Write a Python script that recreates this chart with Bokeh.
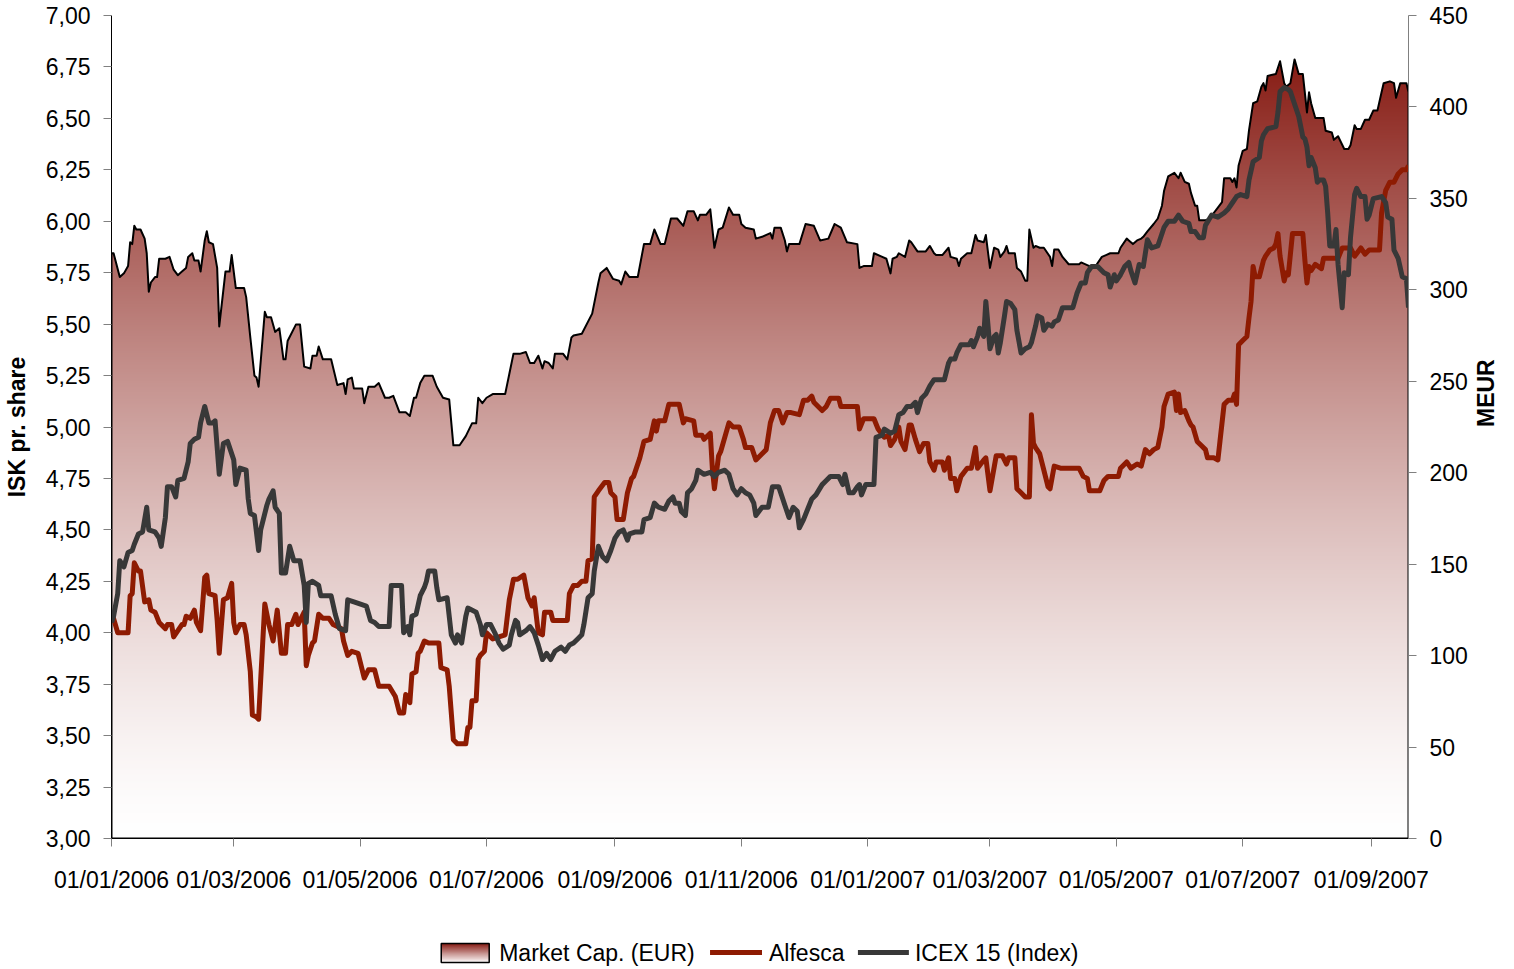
import math
import numpy as np
import pandas as pd
from bokeh.plotting import figure
from bokeh.layouts import column
from bokeh.models import (Range1d, LinearAxis, FixedTicker, DatetimeTickFormatter,
                          CustomJSTickFormatter)
from bokeh.core.properties import value
from bokeh.embed import file_html
from bokeh.resources import INLINE

# ---------------- data ----------------
START = "2006-01-01"
END_DAY = 626  # last trading day shown (19/09/2007)

tick_dates = ["2006-01-01", "2006-03-01", "2006-05-01", "2006-07-01", "2006-09-01",
              "2006-11-01", "2007-01-01", "2007-03-01", "2007-05-01", "2007-07-01",
              "2007-09-01"]
left_ticks = [3.00, 3.25, 3.50, 3.75, 4.00, 4.25, 4.50, 4.75, 5.00, 5.25, 5.50,
              5.75, 6.00, 6.25, 6.50, 6.75, 7.00]
right_ticks = [0, 50, 100, 150, 200, 250, 300, 350, 400, 450]

# Market Cap. (EUR), MEUR  -> (day since 01/01/2006, value)
mc_points = [(0,320),(1,320),(4,307),(6,309),(8,313),(9,326),(10,325),(11,335),(12,333),(14,333),
(16,328),(17,320),(18,299),(19,304),(21,307),(22,307),(23,317),(26,317),(28,318),(30,311),(32,308),
(34,310),(36,312),(37,318),(39,320),(40,316),(42,316),(43,310),(45,327),(46,332),(47,326),(49,325),
(51,312),(52,280),(55,310),(57,310),(58,319),(60,301),(64,301),(65,296),(67,274),(69,253),(70,252),
(71,247),(74,288),(75,285),(77,285),(79,277),(81,279),(83,262),(84,262),(85,272),(89,281),(91,281),
(93,258),(96,257),(97,264),(99,264),(100,269),(102,262),(106,262),(109,248),(112,249),(113,243),
(114,251),(116,252),(117,246),(121,246),(122,238),(124,247),(127,247),(129,249),(132,241),(134,241),
(136,242),(139,233),(142,233),(144,231),(146,241),(147,241),(149,249),(151,253),(155,253),(157,247),
(160,241),(163,240),(165,215),(168,215),(171,220),(174,227),(176,227),(177,241),(179,238),(181,241),
(184,243),(190,243),(192,254),(194,265),(197,265),(200,266),(202,260),(204,260),(206,264),(208,257),
(209,261),(211,260),(213,257),(214,265),(218,265),(220,262),(222,274),(223,275),(227,276),(232,287),
(235,304),(236,309),(239,312),(242,306),(245,305),(246,303),(248,310),(250,307),(254,307),(257,325),
(260,325),(262,333),(265,325),(267,325),(270,339),(273,339),(276,335),(278,343),(281,343),(283,338),
(284,341),(287,341),(289,344),(291,323),(293,333),(295,334),(298,345),(300,341),(303,341),(304,336),
(306,334),(310,333),(311,328),(314,329),(318,331),(319,328),(320,334),(323,334),(325,327),(326,321),
(327,325),(332,325),(335,336),(339,335),(342,327),(346,328),(349,336),(352,334),(355,326),(360,325),
(361,312),(363,313),(367,313),(368,320),(372,318),(374,317),(376,309),(377,317),(379,318),(380,320),
(383,318),(385,327),(386,326),(389,321),(393,321),(395,324),(397,320),(398,319),(401,319),(404,323),
(405,318),(408,317),(409,313),(410,317),(413,320),(415,320),(417,330),(418,327),(421,326),(422,330),
(424,312),(426,323),(428,322),(429,318),(431,321),(432,324),(433,320),(436,320),(437,312),(439,310),
(441,305),(442,305),(443,333),(445,323),(446,324),(448,323),(450,323),(453,318),(454,313),(455,322),
(457,322),(459,318),(462,314),(467,314),(468,315),(472,313),(475,313),(478,318),(480,319),(482,320),
(486,320),(487,323),(490,328),(491,327),(493,325),(495,327),(497,328),(498,329),(500,332),(503,336),
(505,339),(507,346),(508,354),(510,362),(513,364),(515,361),(516,364),(518,359),(520,358),(521,353),
(523,346),(524,346),(525,338),(528,338),(530,339),(532,342),(534,345),(536,348),(537,361),(540,361),
(541,359),(542,361),(543,356),(544,368),(546,376),(548,377),(549,387),(551,402),(553,403),(555,411),
(556,413),(557,409),(558,417),(562,418),(564,425),(566,413),(567,411),(569,413),(571,426),(573,418),
(575,418),(577,397),(578,408),(579,402),(581,394),(582,394),(585,394),(586,387),(589,386),(590,382),
(592,384),(595,377),(597,377),(598,379),(600,390),(601,388),(603,388),(605,393),(607,393),(609,398),
(611,398),(613,408),(614,413),(617,414),(619,413),(620,405),(622,413),(625,413),(626,408)]

# Alfesca, ISK per share
alf_points = [(0,4.08),(1,4.07),(3,4.00),(8,4.00),(9,4.18),(10,4.19),(11,4.34),(13,4.30),(14,4.30),
(16,4.15),(18,4.16),(19,4.11),(21,4.10),(23,4.05),(26,4.02),(27,4.04),(29,4.04),(30,3.98),(34,4.04),
(35,4.04),(36,4.08),(38,4.07),(40,4.11),(41,4.05),(43,4.01),(45,4.27),(46,4.28),(47,4.19),(50,4.18),
(51,4.06),(52,3.90),(54,4.16),(56,4.17),(58,4.24),(59,4.05),(60,4.00),(62,4.04),(64,4.04),(65,3.99),
(67,3.81),(68,3.60),(70,3.59),(71,3.58),(72,3.77),(74,4.14),(76,4.04),(78,3.96),(80,4.11),(82,3.90),
(84,3.90),(85,4.04),(87,4.04),(89,4.09),(90,4.04),(93,4.10),(94,3.84),(95,3.89),(97,3.95),(98,3.96),
(100,4.09),(102,4.07),(105,4.07),(107,4.04),(111,4.02),(112,3.96),(114,3.89),(116,3.91),(119,3.90),
(122,3.78),(124,3.82),(127,3.82),(129,3.74),(134,3.74),(137,3.69),(139,3.61),(141,3.61),(142,3.70),
(144,3.66),(145,3.80),(147,3.81),(148,3.90),(149,3.91),(151,3.96),(153,3.95),(158,3.95),(159,3.83),
(162,3.82),(163,3.74),(165,3.48),(167,3.46),(171,3.46),(172,3.54),(173,3.54),(174,3.67),(176,3.67),
(177,3.87),(178,3.89),(180,3.91),(181,4.00),(184,3.97),(190,3.99),(192,4.16),(194,4.26),(196,4.26),
(199,4.28),(201,4.17),(203,4.13),(204,4.17),(206,4.00),(208,3.99),(209,4.10),(212,4.10),(213,4.06),
(220,4.06),(221,4.19),(223,4.23),(225,4.23),(227,4.25),(229,4.25),(230,4.35),(232,4.36),(233,4.66),
(235,4.69),(238,4.73),(240,4.73),(241,4.68),(243,4.66),(244,4.55),(247,4.55),(249,4.68),(251,4.75),
(252,4.76),(255,4.85),(257,4.93),(260,4.94),(262,5.03),(263,4.98),(264,5.03),(267,5.03),(269,5.11),
(274,5.11),(276,5.02),(277,5.04),(281,5.03),(282,4.96),(285,4.96),(286,4.94),(289,4.97),(290,4.80),
(291,4.70),(293,4.86),(294,4.88),(298,5.02),(300,5.00),(303,5.00),(305,4.94),(306,4.90),(309,4.90),
(311,4.84),(314,4.87),(316,4.89),(318,5.02),(320,5.08),(322,5.08),(324,5.02),(326,5.07),(328,5.07),
(332,5.06),(334,5.13),(336,5.13),(338,5.15),(339,5.12),(343,5.08),(345,5.10),(347,5.14),(351,5.14),
(352,5.10),(360,5.10),(361,4.99),(363,5.04),(368,5.04),(370,4.99),(373,4.95),(375,4.96),(376,4.91),
(378,4.94),(380,5.00),(381,4.93),(383,4.89),(385,5.01),(386,5.01),(388,4.94),(390,4.88),(392,4.92),
(394,4.92),(395,4.83),(397,4.79),(398,4.83),(401,4.83),(402,4.79),(404,4.85),(405,4.75),(407,4.75),
(408,4.69),(410,4.76),(413,4.80),(415,4.80),(417,4.90),(418,4.80),(421,4.84),(422,4.85),(424,4.69),
(427,4.86),(430,4.86),(432,4.82),(433,4.85),(436,4.85),(437,4.70),(439,4.68),(441,4.66),(443,4.66),
(444,5.06),(445,4.92),(446,4.90),(448,4.87),(450,4.79),(452,4.71),(453,4.70),(455,4.81),(458,4.80),
(467,4.80),(469,4.76),(471,4.75),(472,4.69),(477,4.69),(479,4.74),(481,4.76),(486,4.76),(487,4.80),
(490,4.83),(492,4.80),(495,4.82),(497,4.81),(499,4.89),(501,4.87),(503,4.89),(505,4.90),(507,5.00),
(508,5.10),(510,5.16),(513,5.17),(514,5.08),(515,5.16),(516,5.07),(518,5.08),(520,5.03),(521,5.01),
(522,5.00),(524,4.93),(526,4.91),(528,4.89),(529,4.85),(532,4.85),(534,4.84),(535,4.93),(537,5.11),
(539,5.13),(541,5.13),(542,5.16),(543,5.11),(544,5.40),(546,5.42),(548,5.44),(549,5.53),(550,5.61),
(551,5.78),(552,5.73),(554,5.73),(556,5.81),(557,5.83),(559,5.86),(561,5.87),(562,5.89),(563,5.94),
(564,5.83),(566,5.71),(567,5.75),(568,5.74),(570,5.94),(575,5.94),(576,5.81),(577,5.70),(578,5.78),
(579,5.76),(581,5.79),(584,5.77),(585,5.82),(592,5.82),(594,5.87),(598,5.87),(600,5.83),(603,5.87),
(605,5.84),(607,5.86),(612,5.86),(613,6.04),(615,6.15),(617,6.19),(619,6.19),(621,6.23),(623,6.25),
(625,6.25),(626,6.27)]

# ICEX 15 (Index), rebased to the ISK scale
icex_points = [(0,4.05),(1,4.08),(3,4.19),(4,4.35),(6,4.32),(8,4.39),(10,4.40),(11,4.43),(13,4.48),
(15,4.49),(17,4.61),(18,4.50),(21,4.49),(23,4.46),(24,4.42),(26,4.56),(27,4.71),(29,4.71),(31,4.66),
(32,4.74),(35,4.75),(37,4.83),(38,4.92),(40,4.94),(42,4.95),(43,5.02),(45,5.10),(47,5.02),(49,5.02),
(50,5.03),(52,4.77),(54,4.92),(56,4.93),(59,4.84),(60,4.72),(62,4.80),(65,4.79),(66,4.65),(67,4.58),
(69,4.57),(71,4.40),(72,4.50),(75,4.62),(76,4.65),(78,4.69),(79,4.61),(81,4.58),(82,4.29),(84,4.29),
(86,4.42),(88,4.35),(91,4.35),(93,4.23),(94,4.05),(95,4.24),(97,4.25),(100,4.23),(101,4.18),(106,4.18),
(108,4.09),(110,4.02),(113,4.01),(114,4.16),(117,4.15),(123,4.13),(125,4.06),(127,4.05),(129,4.03),
(134,4.03),(135,4.23),(140,4.23),(141,4.00),(143,4.03),(144,3.99),(145,4.08),(147,4.09),(149,4.18),
(151,4.22),(152,4.25),(153,4.30),(156,4.30),(157,4.22),(158,4.16),(162,4.17),(164,3.99),(166,3.95),
(167,3.99),(169,3.95),(171,4.08),(172,4.12),(176,4.10),(178,4.04),(179,3.99),(181,4.04),(183,4.04),
(185,4.00),(187,3.95),(189,3.92),(192,3.94),(193,3.99),(195,4.06),(196,4.05),(197,3.99),(200,4.01),
(202,4.03),(204,4.00),(206,3.94),(208,3.87),(210,3.90),(212,3.87),(214,3.91),(217,3.93),(219,3.91),
(221,3.94),(223,3.95),(225,3.97),(227,3.99),(228,4.04),(230,4.17),(232,4.19),(233,4.30),(235,4.42),
(237,4.37),(239,4.35),(241,4.40),(243,4.46),(245,4.49),(247,4.50),(249,4.45),(250,4.48),(253,4.49),
(256,4.49),(257,4.55),(260,4.56),(262,4.63),(264,4.61),(267,4.60),(269,4.64),(271,4.66),(272,4.63),
(274,4.63),(275,4.59),(277,4.57),(278,4.68),(280,4.70),(282,4.74),(283,4.79),(286,4.77),(289,4.78),
(291,4.76),(293,4.78),(296,4.79),(298,4.77),(300,4.70),(302,4.67),(304,4.70),(306,4.68),(308,4.67),
(310,4.63),(311,4.57),(314,4.61),(317,4.61),(319,4.71),(322,4.71),(324,4.65),(325,4.62),(327,4.56),
(329,4.61),(331,4.59),(332,4.51),(334,4.55),(336,4.60),(338,4.65),(340,4.67),(343,4.72),(345,4.74),
(347,4.76),(351,4.76),(353,4.72),(354,4.77),(356,4.68),(358,4.68),(360,4.71),(361,4.72),(362,4.67),
(364,4.72),(368,4.72),(369,4.95),(372,4.96),(373,4.99),(376,4.97),(378,4.98),(380,5.06),(382,5.07),
(384,5.10),(386,5.10),(388,5.12),(389,5.07),(391,5.14),(393,5.16),(395,5.20),(397,5.23),(402,5.23),
(404,5.31),(405,5.33),(407,5.33),(408,5.36),(410,5.40),(414,5.40),(415,5.42),(416,5.39),(418,5.44),
(419,5.48),(421,5.44),(422,5.61),(423,5.50),(424,5.38),(426,5.44),(427,5.45),(428,5.36),(429,5.41),
(431,5.54),(432,5.61),(434,5.60),(436,5.57),(437,5.47),(439,5.36),(441,5.38),(443,5.39),(444,5.41),
(446,5.49),(447,5.54),(449,5.53),(450,5.47),(452,5.50),(454,5.49),(455,5.51),(457,5.52),(459,5.58),
(464,5.58),(466,5.65),(468,5.70),(470,5.70),(471,5.75),(473,5.78),(476,5.78),(479,5.75),(481,5.74),
(482,5.68),(484,5.74),(485,5.71),(487,5.74),(489,5.78),(491,5.80),(492,5.76),(494,5.70),(496,5.79),
(498,5.78),(500,5.91),(502,5.87),(505,5.88),(508,5.97),(510,6.00),(513,6.00),(515,6.03),(517,6.00),
(520,5.99),(521,5.95),(523,5.95),(525,5.92),(527,5.92),(528,5.98),(531,6.03),(534,6.02),(537,6.04),
(539,6.06),(541,6.09),(543,6.12),(545,6.13),(548,6.12),(549,6.20),(551,6.29),(554,6.31),(555,6.39),
(556,6.42),(558,6.45),(562,6.46),(563,6.53),(564,6.63),(566,6.65),(568,6.64),(569,6.63),(571,6.57),
(573,6.51),(575,6.41),(576,6.40),(577,6.36),(578,6.27),(579,6.31),(581,6.26),(582,6.19),(583,6.20),
(585,6.20),(586,6.17),(587,6.04),(588,5.88),(590,5.88),(591,5.96),(592,5.79),(594,5.58),(595,5.75),
(597,5.74),(598,5.92),(600,6.13),(601,6.16),(603,6.12),(605,6.12),(606,6.01),(607,6.03),(609,6.11),
(613,6.12),(615,6.09),(616,6.02),(618,6.01),(619,5.86),(621,5.82),(623,5.73),(625,5.72),(626,5.58)]

legend_labels = ["Market Cap. (EUR)", "Alfesca", "ICEX 15 (Index)"]

# ---------------- helpers ----------------
T0 = pd.Timestamp(START)

def to_ms(days):
    d = T0 + pd.to_timedelta(np.asarray(days, dtype=float), unit="D")
    return d.values.astype("datetime64[ms]").astype("int64").astype(float)

def split(points):
    days = [q[0] for q in points]
    vals = [q[1] for q in points]
    return to_ms(days), np.asarray(vals, dtype=float)

mc_x, mc_y = split(mc_points)
alf_x, alf_y = split(alf_points)
icex_x, icex_y = split(icex_points)

x_start = to_ms([0])[0]
x_end = to_ms([END_DAY])[0]

FONT = "Liberation Sans"
FS = "23px"
RED = "#8E1B02"
GREY = "#383838"
TOP_RGB = (135, 28, 20)
LW = 5


def gradient_image(n, power=1.4):
    t = (np.arange(n) + 0.5) / n
    f = t ** power
    img = np.empty((n, 1), dtype=np.uint32)
    view = img.view(dtype=np.uint8).reshape((n, 1, 4))
    for k in range(3):
        view[:, 0, k] = np.clip(255 + (TOP_RGB[k] - 255) * f, 0, 255).astype(np.uint8)
    view[:, 0, 3] = 255
    return img


p = figure(width=1514, height=900, output_backend="svg", toolbar_location=None,
           x_axis_type="datetime",
           x_range=Range1d(x_start, x_end), y_range=Range1d(3.0, 7.0),
           min_border_left=110, min_border_right=106, min_border_top=15,
           min_border_bottom=62)
p.extra_y_ranges = {"meur": Range1d(0, 450)}
p.outline_line_color = None
p.xgrid.grid_line_color = None
p.ygrid.grid_line_color = None

# ---- Market cap area with vertical gradient ----
top_val = float(np.max(mc_y))
p.image_rgba(image=[gradient_image(600)], x=x_start, y=0, dw=x_end - x_start, dh=top_val,
             y_range_name="meur")
p.varea(x=mc_x, y1=mc_y, y2=450, fill_color="white", y_range_name="meur")
outline_x = np.concatenate([[mc_x[0]], mc_x, [mc_x[-1]]])
outline_y = np.concatenate([[0], mc_y, [0]])
p.patch(outline_x, outline_y, fill_alpha=0, line_color="black", line_width=2,
        line_join="round", y_range_name="meur")

p.line(alf_x, alf_y, line_color=RED, line_width=LW, line_join="round")
p.line(icex_x, icex_y, line_color=GREY, line_width=LW, line_join="round")

# ---- axes ----
xa = p.xaxis[0]
xa.ticker = FixedTicker(ticks=list(to_ms([(pd.Timestamp(d) - T0).days for d in tick_dates])))
xa.formatter = DatetimeTickFormatter(days="%d/%m/%Y", months="%d/%m/%Y", years="%d/%m/%Y")
ya = p.yaxis[0]
ya.ticker = FixedTicker(ticks=left_ticks)
ya.formatter = CustomJSTickFormatter(code="return tick.toFixed(2).replace('.', ',');")
ya.axis_label = "ISK pr. share"

ra = LinearAxis(y_range_name="meur", ticker=FixedTicker(ticks=right_ticks),
                axis_label="MEUR")
p.add_layout(ra, "right")

for ax in (xa, ya, ra):
    ax.major_label_text_font = FONT
    ax.major_label_text_font_size = FS
    ax.major_label_text_color = "black"
    ax.major_tick_line_color = "#808080"
    ax.major_tick_out = 8
    ax.major_tick_in = 0
    ax.minor_tick_line_color = None
    ax.major_label_standoff = 13
    ax.axis_label_text_font = FONT
    ax.axis_label_text_font_size = FS
    ax.axis_label_text_font_style = "bold"
    ax.axis_label_text_color = "black"
xa.axis_line_color = "black"
ya.axis_line_color = "black"
ra.axis_line_color = "#808080"
xa.major_label_standoff = 20
ya.axis_label_standoff = 13
ra.axis_label_standoff = 15
ra.axis_label_orientation = math.pi / 2
ra.axis_label_text_baseline = "top"

# ---------------- legend strip (same frame as the chart: x in page pixels) ----------------
lg = figure(width=1514, height=69, output_backend="svg", toolbar_location=None,
            x_range=Range1d(110, 1408), y_range=Range1d(0, 69),
            min_border_left=110, min_border_right=106, min_border_top=0,
            min_border_bottom=0, x_axis_location=None, y_axis_location=None)
lg.grid.visible = False
lg.outline_line_color = None

lg.image_rgba(image=[gradient_image(60, power=1.0)], x=440, y=7, dw=48, dh=19)
lg.quad(left=[440], right=[488], bottom=[7], top=[26], fill_color=None,
        line_color="black", line_width=1.5)
lg.line([709, 761], [17, 17], line_color=RED, line_width=LW)
lg.line([857, 908], [17, 17], line_color=GREY, line_width=LW)
lg.text(x=[498, 768, 914], y=[17, 17, 17], text=legend_labels,
        text_font=value(FONT), text_font_size=FS, text_baseline="middle",
        text_align="left", text_color="black")

layout = column(p, lg, spacing=0)
open("out.html", "w").write(file_html(layout, INLINE))
